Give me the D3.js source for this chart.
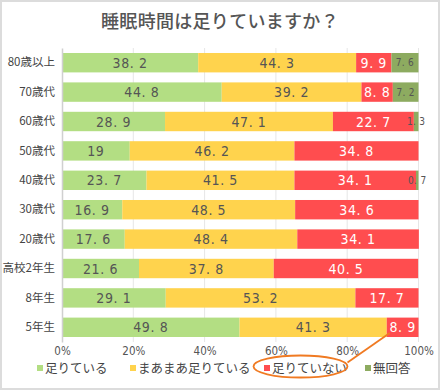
<!DOCTYPE html>
<html><head><meta charset="utf-8">
<script src="https://cdn.jsdelivr.net/npm/d3@7"></script>
<style>
html,body{margin:0;padding:0;background:#fff;}
svg{display:block;font-family:"Noto Sans CJK JP","Noto Sans",sans-serif;}
</style></head>
<body>
<script>
const title = "睡眠時間は足りていますか？";
const categories = ["80歳以上","70歳代","60歳代","50歳代","40歳代","30歳代","20歳代","高校2年生","8年生","5年生"];
const seriesNames = ["足りている","まあまあ足りている","足りていない","無回答"];
const enough =      [38.2, 44.8, 28.9, 19,   23.7, 16.9, 17.6, 21.6, 29.1, 49.8];
const fairly =      [44.3, 39.2, 47.1, 46.2, 41.5, 48.5, 48.4, 37.8, 53.2, 41.3];
const notEnough =   [9.9,  8.8,  22.7, 34.8, 34.1, 34.6, 34.1, 40.5, 17.7, 8.9];
const noAnswer =    [7.6,  7.2,  1.3,  0,    0.7,  0,    0,    0,    0,    0];
const tickValues = [0, 20, 40, 60, 80, 100];
const tickLabels = ["0%","20%","40%","60%","80%","100%"];

const colors = ["#b3de83", "#ffd34d", "#ff4d4f", "#8dab60"];
const labelColors = ["#555", "#555", "#fff", "#555"];

const W = 440, H = 390;
const svg = d3.select("body").append("svg").attr("width", W).attr("height", H);

svg.append("rect").attr("x", 1).attr("y", 1).attr("width", W - 2).attr("height", H - 2)
  .attr("fill", "#fff").attr("stroke", "#dcdcdc").attr("stroke-width", 2);

svg.append("text").attr("x", 220).attr("y", 28).attr("text-anchor", "middle")
  .attr("font-size", 18).attr("fill", "#555").attr("font-weight", 500)
  .attr("letter-spacing", 0.3).text(title);

const x = d3.scaleLinear().domain([0, 100]).range([62, 418.5]);
const y = d3.scaleBand().domain(categories).range([48, 342]).paddingInner(0.34).paddingOuter(0.17);

// gridlines
svg.append("g").selectAll("line").data(tickValues.slice(1)).join("line")
  .attr("x1", d => x(d)).attr("x2", d => x(d)).attr("y1", 48).attr("y2", 342)
  .attr("stroke", "#e6e6e6").attr("stroke-width", 1);

const seriesData = [enough, fairly, notEnough, noAnswer];
const rows = categories.map((c, i) => {
  const o = {cat: c};
  seriesNames.forEach((s, j) => o[s] = seriesData[j][i]);
  return o;
});
const stack = d3.stack().keys(seriesNames)(rows);

stack.forEach((layer, j) => {
  const g = svg.append("g");
  g.selectAll("rect").data(layer).join("rect")
    .attr("x", d => x(d[0])).attr("width", d => Math.max(0, x(d[1]) - x(d[0])))
    .attr("y", d => y(d.data.cat)).attr("height", y.bandwidth())
    .attr("fill", colors[j]);
  g.selectAll("text").data(layer.filter(d => d.data[seriesNames[j]] > 0)).join("text")
    .attr("x", d => (x(d[0]) + x(d[1])) / 2)
    .attr("y", d => y(d.data.cat) + y.bandwidth() / 2)
    .attr("dy", "0.36em").attr("text-anchor", "middle")
    .attr("font-family", "'Liberation Sans Narrow','DejaVu Sans Condensed',sans-serif")
    .attr("font-size", j === 3 ? 10 : 14)
    .attr("letter-spacing", j === 3 ? 0.3 : 0.6)
    .attr("fill", labelColors[j])
    .text(d => String(d.data[seriesNames[j]]).replace(".", ". "));
});

// y axis
const yAxis = svg.append("g").attr("transform", "translate(62,0)")
  .call(d3.axisLeft(y).tickSize(0).tickPadding(7));
yAxis.select(".domain").attr("stroke", "#d0d0d0").attr("stroke-width", 1.5);
yAxis.selectAll("text").attr("font-size", 11.5).attr("fill", "#444")
  .attr("font-family", "'Noto Sans CJK JP',sans-serif");

// x axis
const xAxis = svg.append("g").attr("transform", "translate(0,342)")
  .call(d3.axisBottom(x).tickValues(tickValues).tickFormat((d, i) => tickLabels[i]).tickSize(0).tickPadding(5));
xAxis.select(".domain").remove();
xAxis.selectAll("text").attr("font-size", 11.5).attr("fill", "#555")
  .attr("font-family", "'Liberation Sans Narrow','DejaVu Sans Condensed',sans-serif");

// legend
const legendX = [37, 130, 264, 365];
const lg = svg.append("g");
seriesNames.forEach((s, j) => {
  lg.append("rect").attr("x", legendX[j]).attr("y", 365).attr("width", 6).attr("height", 6).attr("fill", colors[j]);
  lg.append("text").attr("x", legendX[j] + 8).attr("y", 372.5).attr("font-size", 12.5).attr("fill", "#444").text(s);
});

// annotation
svg.append("ellipse").attr("cx", 300.5).attr("cy", 366.5).attr("rx", 47).attr("ry", 11)
  .attr("fill", "none").attr("stroke", "#f07a22").attr("stroke-width", 1.8);
const lastCat = categories[categories.length - 1];
const redStart = x(enough[9] + fairly[9]);
svg.append("line").attr("x1", 347.5).attr("y1", 362.5)
  .attr("x2", redStart + 3).attr("y2", y(lastCat) + y.bandwidth() - 4)
  .attr("stroke", "#f07a22").attr("stroke-width", 1.8);
</script>
</body></html>
